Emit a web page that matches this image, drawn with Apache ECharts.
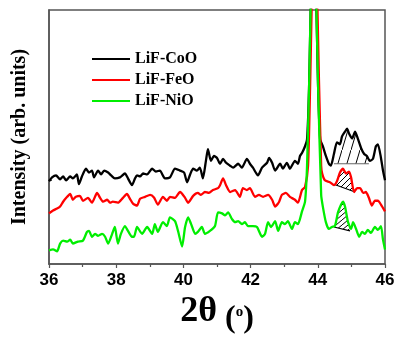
<!DOCTYPE html>
<html><head><meta charset="utf-8">
<script src="https://cdn.jsdelivr.net/npm/echarts@6/dist/echarts.min.js"></script>
<style>html,body{margin:0;padding:0;background:#fff}#c{width:400px;height:340px}</style>
</head><body><div id="c"></div>
<script>
const seriesNames = ['LiF-CoO', 'LiF-FeO', 'LiF-NiO'];
const xTickValues = [36, 38, 40, 42, 44, 46];

const coo = [[36.00,85],[36.09,89],[36.21,91],[36.33,87],[36.42,90],[36.51,86],[36.63,90],[36.71,88],[36.83,92],[36.89,82],[36.98,90],[37.10,98],[37.19,94],[37.28,96],[37.34,89],[37.46,96],[37.55,92],[37.64,96],[37.76,94],[37.85,91],[37.96,88],[38.11,89],[38.26,93],[38.35,88],[38.47,81],[38.56,88],[38.62,91],[38.71,90],[38.80,93],[38.92,92],[39.07,98],[39.18,95],[39.30,96],[39.45,88],[39.60,89],[39.75,98],[39.90,96],[40.02,94],[40.11,84],[40.20,92],[40.29,98],[40.40,96],[40.49,99],[40.58,88],[40.67,106],[40.73,118],[40.82,106],[40.91,111],[41.00,109],[41.09,103],[41.18,108],[41.27,104],[41.39,101],[41.48,99],[41.63,103],[41.74,99],[41.89,108],[41.98,103],[42.07,99],[42.22,91],[42.34,99],[42.49,104],[42.55,109],[42.64,104],[42.73,96],[42.88,103],[42.96,98],[43.08,104],[43.17,98],[43.32,106],[43.41,103],[43.47,111],[43.53,114],[43.62,121],[43.68,128],[43.74,181],[43.87,381],[44.01,181],[44.07,128],[44.15,121],[44.24,111],[44.33,103],[44.39,101],[44.48,113],[44.57,125],[44.66,123],[44.72,131],[44.81,136],[44.87,139],[44.93,134],[45.02,129],[45.11,136],[45.20,128],[45.29,119],[45.38,113],[45.46,111],[45.55,106],[45.64,108],[45.73,121],[45.79,123],[45.88,109],[45.94,96],[46.00,86]];

const feo = [[36.00,52],[36.12,55],[36.24,57],[36.33,59],[36.42,64],[36.54,69],[36.63,72],[36.71,66],[36.80,69],[36.92,70],[37.01,65],[37.16,68],[37.28,63],[37.43,73],[37.52,68],[37.61,64],[37.73,66],[37.82,63],[37.90,64],[38.05,63],[38.20,68],[38.32,72],[38.41,67],[38.50,62],[38.62,60],[38.71,67],[38.86,69],[39.01,71],[39.13,68],[39.24,61],[39.39,69],[39.51,65],[39.60,69],[39.75,68],[39.90,74],[40.05,68],[40.14,63],[40.29,70],[40.43,73],[40.52,71],[40.64,74],[40.76,73],[40.88,76],[41.03,78],[41.09,81],[41.18,88],[41.27,81],[41.39,74],[41.54,76],[41.68,69],[41.77,78],[41.89,76],[41.98,78],[42.13,69],[42.25,71],[42.37,69],[42.52,71],[42.64,66],[42.73,59],[42.85,64],[42.93,71],[43.05,73],[43.17,69],[43.32,66],[43.41,63],[43.53,76],[43.62,79],[43.71,101],[43.77,181],[43.90,381],[44.04,181],[44.10,101],[44.13,93],[44.21,86],[44.36,84],[44.48,81],[44.57,85],[44.66,94],[44.75,98],[44.84,93],[44.93,95],[44.99,89],[45.08,74],[45.17,78],[45.26,78],[45.35,73],[45.43,74],[45.52,68],[45.61,60],[45.70,65],[45.79,65],[45.88,61],[46.00,54]];

const nio = [[36.00,14],[36.12,15],[36.24,13],[36.33,21],[36.42,24],[36.54,23],[36.63,25],[36.71,21],[36.86,23],[37.01,24],[37.13,33],[37.19,34],[37.28,28],[37.37,31],[37.46,29],[37.58,31],[37.67,28],[37.76,21],[37.88,31],[37.96,38],[38.05,21],[38.14,31],[38.26,39],[38.35,34],[38.47,28],[38.53,28],[38.62,38],[38.77,31],[38.92,38],[39.07,31],[39.15,41],[39.24,33],[39.39,43],[39.51,39],[39.60,48],[39.75,44],[39.84,34],[39.96,18],[40.05,38],[40.14,48],[40.23,41],[40.35,31],[40.43,33],[40.55,38],[40.64,31],[40.79,34],[40.94,39],[41.03,53],[41.15,52],[41.24,50],[41.33,53],[41.45,46],[41.54,43],[41.63,44],[41.74,41],[41.83,43],[41.92,39],[42.07,39],[42.19,38],[42.34,28],[42.43,31],[42.52,43],[42.61,38],[42.73,44],[42.82,34],[42.93,43],[43.02,41],[43.11,44],[43.23,36],[43.32,43],[43.41,41],[43.53,54],[43.62,64],[43.68,101],[43.74,181],[43.87,381],[44.01,181],[44.10,71],[44.15,59],[44.24,43],[44.33,36],[44.42,38],[44.51,39],[44.60,53],[44.69,61],[44.75,64],[44.81,59],[44.90,43],[44.99,36],[45.05,43],[45.14,36],[45.23,28],[45.32,33],[45.40,31],[45.49,35],[45.58,32],[45.70,38],[45.79,35],[45.88,39],[45.94,25],[46.00,15]];

// hatched-area baselines (start / end points)
const cooHatch = [[44.48,103],[45.52,103]];
const feoHatch = [[44.48,82],[45.11,74]];
const nioHatch = [[44.48,38],[44.96,34]];

function makePattern(w, h) {
  const c = document.createElement('canvas');
  c.width = w; c.height = h;
  const g = c.getContext('2d');
  g.strokeStyle = '#000'; g.lineWidth = 1;
  g.beginPath();
  g.moveTo(-0.5 * w, 1.5 * h); g.lineTo(1.5 * w, -0.5 * h);
  g.stroke();
  return c;
}
const hatches = [
  { curve: coo, base: cooHatch, pat: makePattern(9, 30), baseColor: '#666' },
  { curve: feo, base: feoHatch, pat: makePattern(6, 6), baseColor: '#000' },
  { curve: nio, base: nioHatch, pat: makePattern(6, 5), baseColor: '#000' }
];

const chart = echarts.init(document.getElementById('c'), null, { renderer: 'canvas' });
const serif = 'Liberation Serif, Times New Roman, serif';
const sans = 'Liberation Sans, Arial, sans-serif';
const colors = ['#000000', '#ff0000', '#00ee00'];

chart.setOption({
  animation: false,
  backgroundColor: '#fff',
  grid: { left: 49, right: 15, top: 10, bottom: 69, show: true, borderColor: '#555', borderWidth: 1.5, backgroundColor: 'transparent' },
  legend: {
    data: seriesNames, orient: 'vertical', left: 87, top: 46,
    icon: 'rect', itemWidth: 38, itemHeight: 2, itemGap: 5,
    textStyle: { fontFamily: serif, fontWeight: 'bold', fontSize: 16, color: '#000', lineHeight: 16 }
  },
  xAxis: {
    type: 'value', min: 36, max: 46, interval: 2,
    axisLine: { lineStyle: { color: '#555', width: 1.5 } },
    axisTick: { show: true, length: 4, lineStyle: { color: '#555', width: 1.2 } },
    minorTick: { show: true, splitNumber: 2, length: 3, lineStyle: { color: '#555', width: 1.2 } },
    splitLine: { show: false },
    axisLabel: { margin: 8, fontFamily: sans, fontWeight: 'bold', fontSize: 17, color: '#000',
      customValues: xTickValues },
    name: '{a|2θ}{b| (}{c|o}{b|)}', nameLocation: 'middle', nameGap: 30,
    nameTextStyle: {
      color: '#000',
      rich: {
        a: { fontFamily: serif, fontWeight: 'bold', fontSize: 36, lineHeight: 36, color: '#000', verticalAlign: 'bottom' },
        b: { fontFamily: serif, fontWeight: 'bold', fontSize: 32, lineHeight: 32, color: '#000', verticalAlign: 'bottom', padding: [0, 0, -5, 0] },
        c: { fontFamily: serif, fontWeight: 'bold', fontSize: 15, lineHeight: 15, color: '#000', verticalAlign: 'top', padding: [11, 0, 0, 0] }
      }
    }
  },
  yAxis: {
    type: 'value', min: 0, max: 261,
    axisLine: { show: true, lineStyle: { color: '#555', width: 1.5 } },
    axisTick: { show: true, inside: true, length: 3, customValues: [86], lineStyle: { color: '#555' } },
    axisLabel: { show: false },
    splitLine: { show: false },
    name: 'Intensity (arb. units)', nameLocation: 'middle', nameGap: 19,
    nameTextStyle: { fontFamily: serif, fontWeight: 'bold', fontSize: 20, color: '#000' }
  },
  series: [
    {
      type: 'custom', name: 'hatch', silent: true, z: 1, clip: true,
      data: [cooHatch[0], feoHatch[0], nioHatch[0]],
      renderItem: function (params, api) {
        const h = hatches[params.dataIndex];
        const b0 = h.base[0], b1 = h.base[1];
        const pts = [api.coord(b0)];
        h.curve.forEach(p => { if (p[0] >= b0[0] && p[0] <= b1[0]) pts.push(api.coord(p)); });
        pts.push(api.coord(b1));
        const p0 = api.coord(b0), p1 = api.coord(b1);
        return {
          type: 'group', children: [
            { type: 'polygon', shape: { points: pts }, style: { fill: { image: h.pat, repeat: 'repeat' }, stroke: null } },
            { type: 'line', shape: { x1: p0[0], y1: p0[1], x2: p1[0], y2: p1[1] }, style: { stroke: h.baseColor, lineWidth: 1.2 } }
          ]
        };
      }
    },
    { name: seriesNames[0], type: 'line', data: coo, symbol: 'none', smooth: 0.2, z: 3, lineStyle: { color: colors[0], width: 2.3 }, itemStyle: { color: colors[0] } },
    { name: seriesNames[1], type: 'line', data: feo, symbol: 'none', smooth: 0.2, z: 3, lineStyle: { color: colors[1], width: 2.3 }, itemStyle: { color: colors[1] } },
    { name: seriesNames[2], type: 'line', data: nio, symbol: 'none', smooth: 0.2, z: 3, lineStyle: { color: colors[2], width: 2.3 }, itemStyle: { color: colors[2] } }
  ]
});
</script>
</body></html>
